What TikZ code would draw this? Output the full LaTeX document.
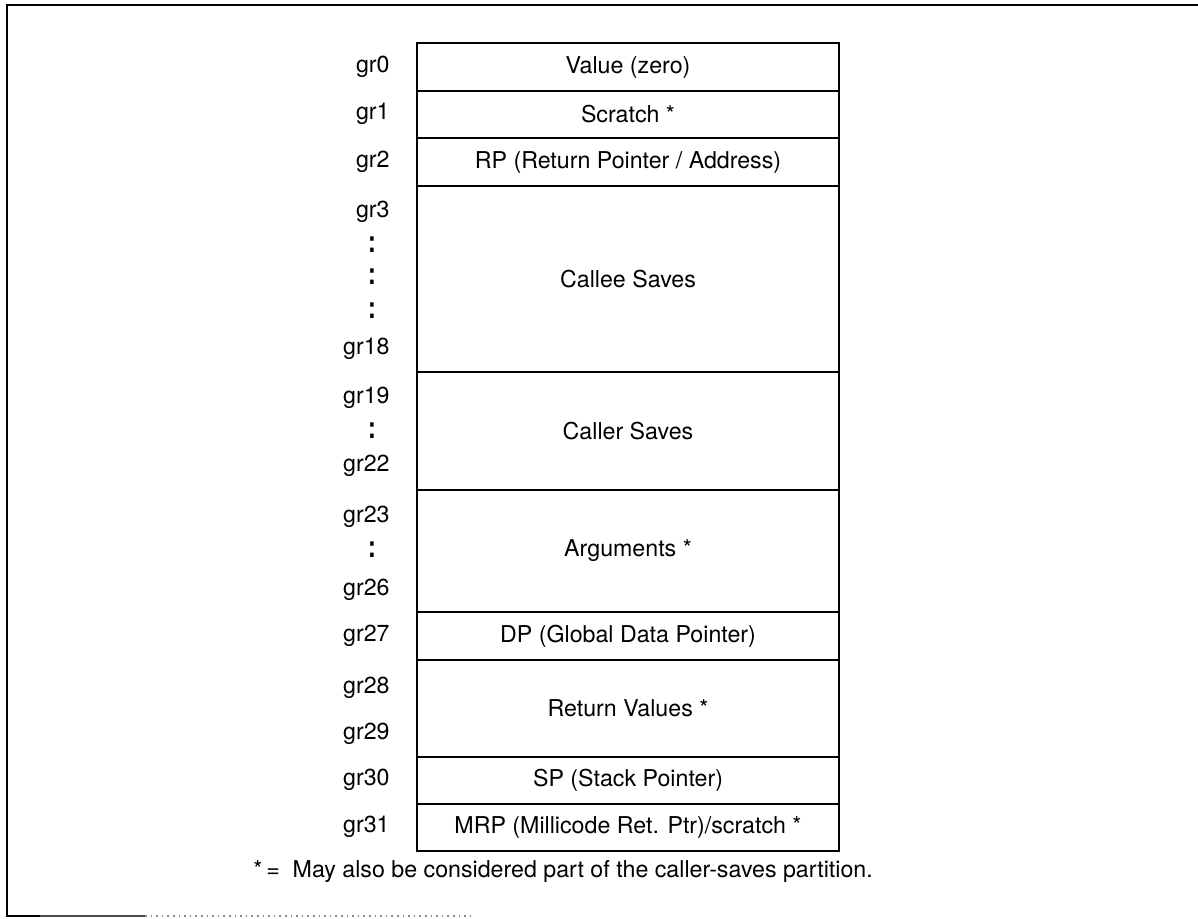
\documentclass[tikz,border=0pt]{standalone}
\usepackage{fontspec}
\usepackage{graphicx}
\setmainfont{TeX Gyre Heros}
\begin{document}
\begin{tikzpicture}[x=0.5pt,y=-0.5pt,
  txt/.style={font=\fontsize{11.6}{14}\selectfont, inner sep=0pt},
  cell/.style={txt, draw, line width=1pt, minimum width=211pt},
  reg/.style={txt, anchor=mid east},
  vdots/.style={txt, font=\fontsize{11.6}{14}\selectfont\bfseries},
  frame/.style={line width=1.3pt}]
\useasboundingbox (0,0) rectangle (1198,918);

% page frame (open on the right, fading along the bottom)
\coordinate (ftl) at (7,5);
\coordinate (ftr) at (1198,5);
\coordinate (fbl) at (7,916);
\coordinate (fb1) at (40,916);
\coordinate (fb2) at (145,916);
\coordinate (fb3) at (470,916);
\draw[frame] (ftr) -- (ftl) -- (fbl) -- (fb1);
\draw[line width=0.9pt, black!70] (fb1) -- (fb2);
\draw[line width=0.8pt, black!45, dotted] (fb2) -- (fb3);

% register file partitions
\node[cell, minimum height=24pt]   (v0)     at (628,67)    {Value (zero)};
\node[cell, minimum height=23.5pt] (v1)     at (628,114.5) {Scratch *};
\node[cell, minimum height=24pt]   (rp)     at (628,162)   {RP (Return Pointer / Address)};
\node[cell, minimum height=93pt]   (callee) at (628,279)   {Callee Saves};
\node[cell, minimum height=59pt]   (caller) at (628,431)   {Caller Saves};
\node[cell, minimum height=61pt]   (args)   at (628,551)   {Arguments *};
\node[cell, minimum height=24pt]   (dp)     at (628,636)   {DP (Global Data Pointer)};
\node[cell, minimum height=48.5pt] (ret)    at (628,708.5) {Return Values *};
\node[cell, minimum height=23.5pt] (sp)     at (628,780.5) {SP (Stack Pointer)};
\node[cell, minimum height=23.5pt] (mrp)    at (628,827.5) {MRP (Millicode Ret. Ptr)/scratch *};

% register names
\node[reg] (g0)  at (390,67)    {gr0};
\node[reg] (g1)  at (390,114.5) {gr1};
\node[reg] (g2)  at (390,162)   {gr2};
\node[reg] (g3)  at (390,212)   {gr3};
\node[reg] (g18) at (390,349)   {gr18};
\node[reg] (g19) at (390,398)   {gr19};
\node[reg] (g22) at (390,466)   {gr22};
\node[reg] (g23) at (390,517)   {gr23};
\node[reg] (g26) at (390,590)   {gr26};
\node[reg] (g27) at (390,636)   {gr27};
\node[reg] (g28) at (390,688)   {gr28};
\node[reg] (g29) at (390,734)   {gr29};
\node[reg] (g30) at (390,780.5) {gr30};
\node[reg] (g31) at (390,827.5) {gr31};

% elided register ranges
\node[vdots] (d1) at (372,244.5) {\scalebox{1}[1.3]{:}};
\node[vdots] (d2) at (372,277)   {\scalebox{1}[1.3]{:}};
\node[vdots] (d3) at (372,310.5) {\scalebox{1}[1.3]{:}};
\node[vdots] (d4) at (372,430.5) {\scalebox{1}[1.3]{:}};
\node[vdots] (d5) at (372,550)   {\scalebox{1}[1.3]{:}};

% footnote
\node[txt, anchor=mid west] (note) at (253,872)
  {*\,=\ \ May also be considered part of the caller-saves partition.};
\end{tikzpicture}
\end{document}
